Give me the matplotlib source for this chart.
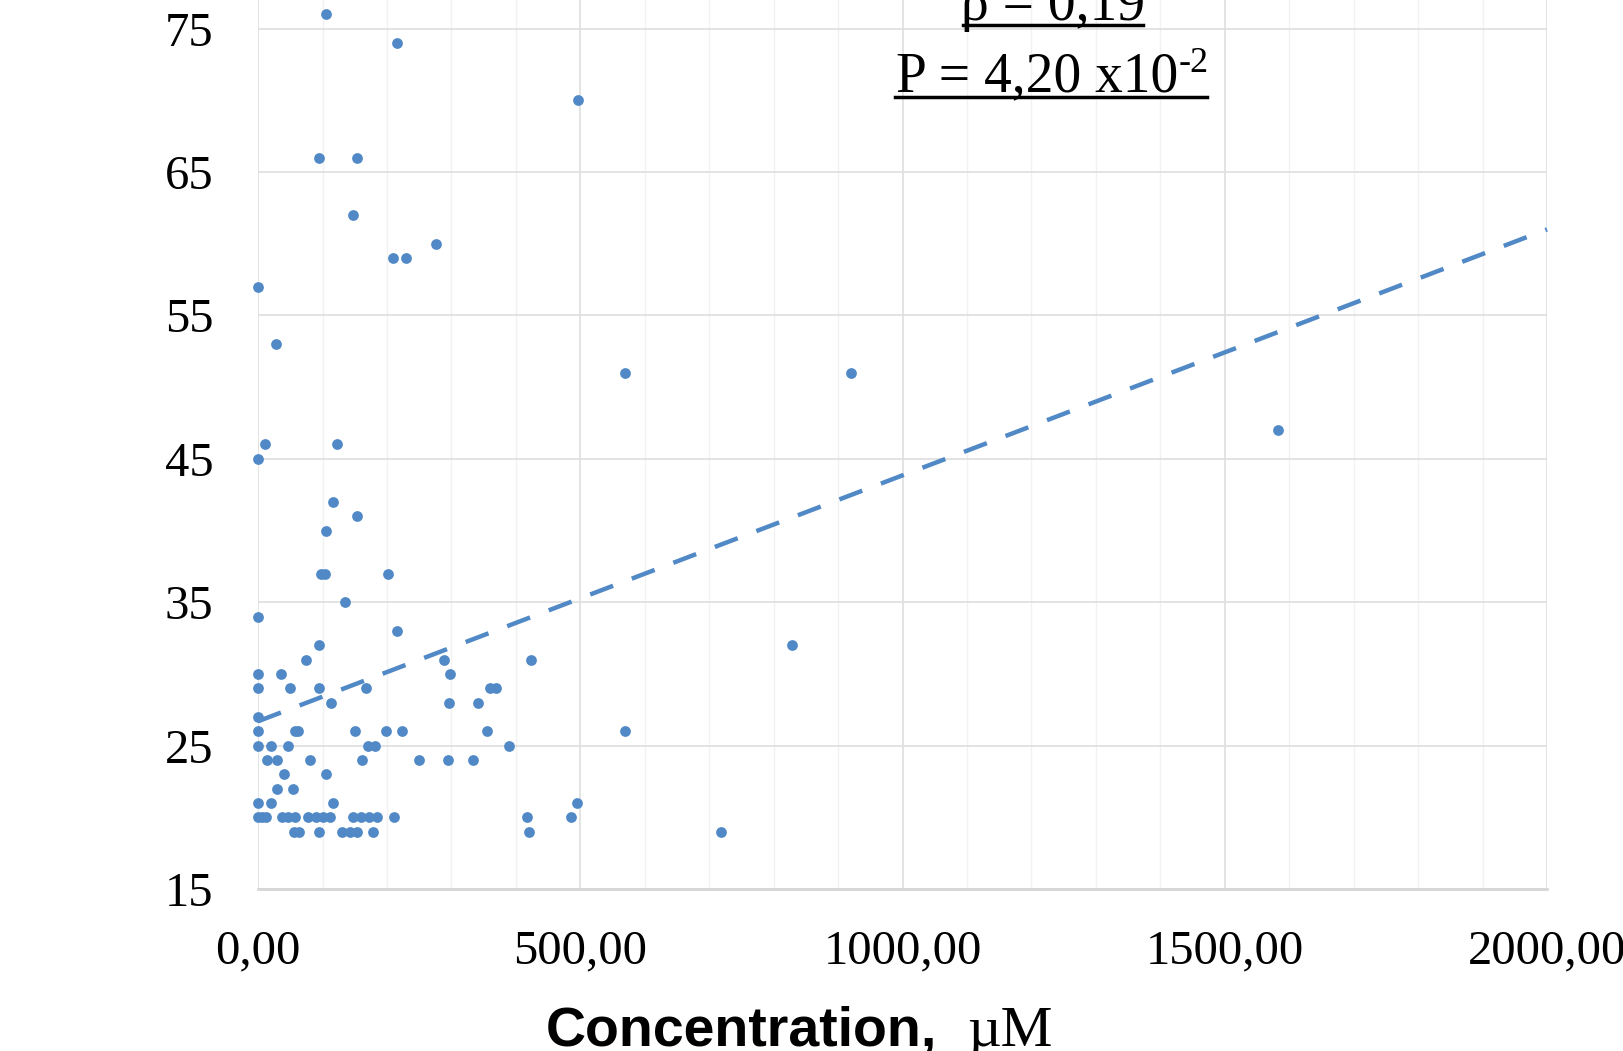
import matplotlib
matplotlib.use("Agg")
import matplotlib.pyplot as plt
from matplotlib.lines import Line2D

# concentration (uM) and value
conc = [106, 215, 497, 95, 153, 148, 276, 210, 230, 0, 28, 570, 920, 1583,
        11, 123, 0, 116, 153, 106, 98, 104, 202, 135, 0, 215, 95, 828,
        74, 289, 424, 0, 36, 298, 0, 49, 94, 168, 360, 369, 113, 297, 342, 0,
        0, 57, 62, 150, 198, 223, 355, 570,
        0, 20, 47, 170, 181, 389,
        14, 29, 81, 162, 250, 294, 333,
        40, 105, 29, 54, 0, 20, 116, 495,
        0, 6, 12, 37, 47, 57, 78, 90, 101, 112, 147, 160, 172, 185, 211, 418, 486,
        55, 63, 95, 131, 143, 154, 178, 421, 719]
vals = [76, 74, 70, 66, 66, 62, 60, 59, 59, 57, 53, 51, 51, 47,
        46, 46, 45, 42, 41, 40, 37, 37, 37, 35, 34, 33, 32, 32,
        31, 31, 31, 30, 30, 30, 29, 29, 29, 29, 29, 29, 28, 28, 28, 27,
        26, 26, 26, 26, 26, 26, 26, 26,
        25, 25, 25, 25, 25, 25,
        24, 24, 24, 24, 24, 24, 24,
        23, 23, 22, 22, 21, 21, 21, 21,
        20, 20, 20, 20, 20, 20, 20, 20, 20, 20, 20, 20, 20, 20, 20, 20, 20,
        19, 19, 19, 19, 19, 19, 19, 19, 19]

# linear trend line ends as seen in the chart
trend_x = [0, 2000]
trend_y = [26.7, 61.0]

xticks = [0, 500, 1000, 1500, 2000]
xtick_labels = ["0,00", "500,00", "1000,00", "1500,00", "2000,00"]
yticks = [15, 25, 35, 45, 55, 65, 75, 85]

blue = "#5089C6"

fig = plt.figure(figsize=(16.23, 10.51), dpi=100)
ax = fig.add_axes([0.159, 0.1541, 0.7942, 0.9551])

ax.scatter(conc, vals, s=60, color=blue, linewidths=0, zorder=3, clip_on=False)
ax.plot(trend_x, trend_y, color=blue, linewidth=3.2, dashes=(5.5, 4.5),
        zorder=2, clip_on=False)

ax.set_xlim(0, 2000)
ax.set_ylim(15, 85)
ax.set_xticks(xticks)
ax.set_xticklabels(xtick_labels)
ax.set_xticks(range(0, 2001, 100), minor=True)
ax.set_yticks(yticks)
ax.set_yticklabels([str(v) for v in yticks])

for lab in ax.get_xticklabels() + ax.get_yticklabels():
    lab.set_fontfamily("Liberation Serif")
    lab.set_fontsize(35)
ax.tick_params(axis="both", which="both", length=0)
ax.tick_params(axis="y", pad=32)
ax.tick_params(axis="x", pad=29)

ax.grid(True, which="major", color="#E0E0E0", linewidth=1.3)
ax.grid(True, which="minor", axis="x", color="#F2F2F2", linewidth=1.0)
ax.set_axisbelow(True)
for side in ["top", "right", "left"]:
    ax.spines[side].set_visible(False)
ax.spines["bottom"].set_color("#D6D6D6")
ax.spines["bottom"].set_linewidth(2)

# axis title: bold sans part + serif unit
fig.text(0.5773, 0.0048, "Concentration,", fontfamily="Liberation Sans",
         fontweight="bold", fontsize=40, ha="right", va="baseline")
fig.text(0.5960, 0.0048, "µM", fontfamily="Liberation Serif",
         fontsize=42, ha="left", va="baseline")

# statistics text (partly cut at the top)
fig.text(0.6488, 0.981, "ρ = 0,19", fontfamily="Liberation Serif",
         fontsize=40, ha="center", va="baseline")
fig.add_artist(Line2D([0.5933, 0.7043], [0.9762, 0.9762], color="black",
                      linewidth=2.5, transform=fig.transFigure))
fig.text(0.5521, 0.9134, "P = 4,20 x10", fontfamily="Liberation Serif",
         fontsize=40, ha="left", va="baseline")
fig.text(0.7262, 0.9315, "-2", fontfamily="Liberation Serif",
         fontsize=26, ha="left", va="baseline")
fig.add_artist(Line2D([0.5515, 0.7437], [0.9077, 0.9077], color="black",
                      linewidth=2.5, transform=fig.transFigure))

fig.savefig("out.png", dpi=100)
